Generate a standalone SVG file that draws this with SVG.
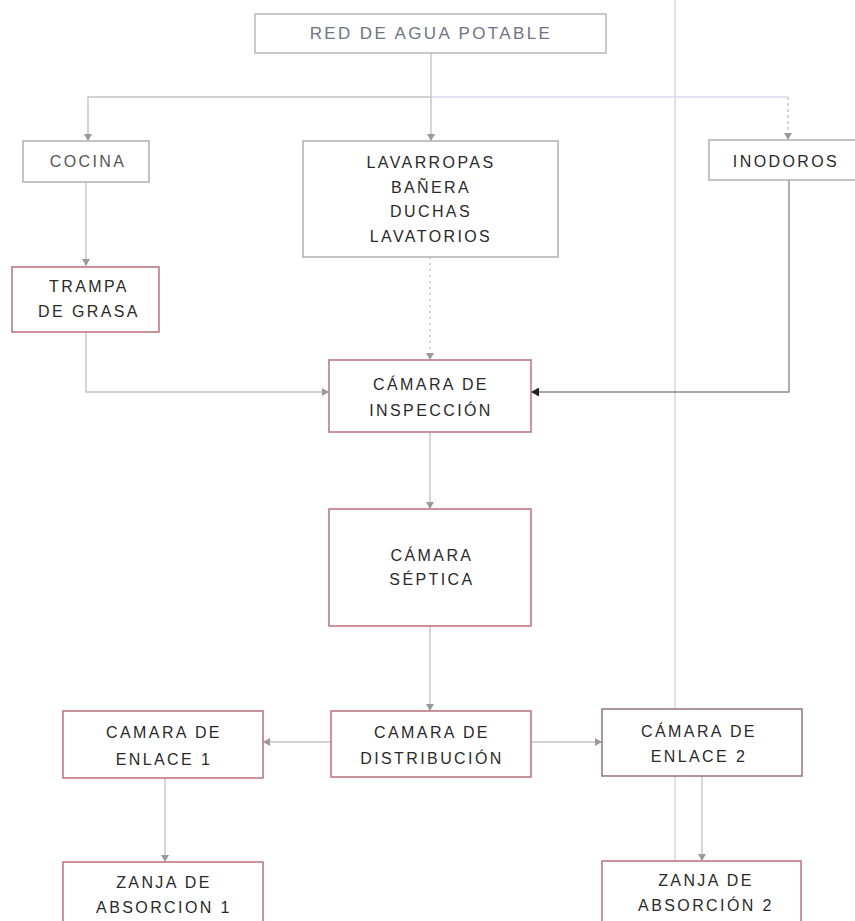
<svg xmlns="http://www.w3.org/2000/svg" width="855" height="921" viewBox="0 0 855 921">
<defs>
<marker id="ah" markerUnits="userSpaceOnUse" markerWidth="8" markerHeight="8" refX="7" refY="4" orient="auto">
<path d="M0,0 L7,4 L0,8 Z" fill="#9a9a9a"/>
</marker>
<marker id="ahk" markerUnits="userSpaceOnUse" markerWidth="9" markerHeight="9" refX="8" refY="4.5" orient="auto">
<path d="M0,0 L8,4.5 L0,9 Z" fill="#222"/>
</marker>
</defs>
<style>
.n rect{fill:#fff;stroke-width:1.6}
.g rect{stroke:#b4b4b4}
.r rect{stroke:#c07884}
.n text{font-family:"Liberation Sans",Arial,sans-serif;font-size:16px;letter-spacing:2.4px;fill:#2a2a2a;text-anchor:middle}
.c path{fill:none;stroke:#c4c4c4;stroke-width:1.4;marker-end:url(#ah)}
.guide{stroke:#d8d8ee;stroke-width:1.6}
</style>
<rect width="855" height="921" fill="#fff"/>
<line class="guide" x1="675" y1="0" x2="675" y2="870"/>
<line class="guide" x1="431" y1="97" x2="788" y2="97"/>
<g id="connectors" class="c">
<path d="M431,53 V141"/>
<path d="M431,97 H88 V141"/>
<path d="M788,97 V140" stroke-dasharray="3 3"/>
<path d="M86,182 V266"/>
<path d="M86,332 V392 H329"/>
<path d="M430,257 V360" stroke-dasharray="2 4"/>
<path d="M789,180 V392 H531" style="stroke:#8c8c8c;marker-end:url(#ahk)"/>
<path d="M430,432 V509"/>
<path d="M430,626 V711"/>
<path d="M331,742 H263"/>
<path d="M531,742 H602"/>
<path d="M165,778 V862"/>
<path d="M702,776 V861"/>
</g>
<g id="red" class="n g">
<rect x="255" y="14" width="351" height="39" style="stroke:#bcbcbc"/>
<text x="431" y="39" style="fill:#6e7484;font-size:17px">RED DE AGUA POTABLE</text>
</g>
<g id="cocina" class="n g">
<rect x="23" y="141" width="126" height="41"/>
<text x="88" y="167" style="fill:#555">COCINA</text>
</g>
<g id="lavarropas" class="n g">
<rect x="303" y="141" width="255" height="116"/>
<text x="431" y="168">LAVARROPAS</text>
<text x="431" y="192.5">BAÑERA</text>
<text x="431" y="217">DUCHAS</text>
<text x="431" y="241.5">LAVATORIOS</text>
</g>
<g id="inodoros" class="n g">
<rect x="709" y="140" width="150" height="40"/>
<text x="786" y="167">INODOROS</text>
</g>
<g id="trampa" class="n r">
<rect x="12" y="267" width="147" height="65"/>
<text x="89" y="292">TRAMPA</text>
<text x="89" y="317">DE GRASA</text>
</g>
<g id="inspeccion" class="n r">
<rect x="329" y="360" width="202" height="72"/>
<text x="431" y="390">CÁMARA DE</text>
<text x="431" y="416">INSPECCIÓN</text>
</g>
<g id="septica" class="n r">
<rect x="329" y="509" width="202" height="117"/>
<text x="432" y="561">CÁMARA</text>
<text x="432" y="585">SÉPTICA</text>
</g>
<g id="enlace1" class="n r">
<rect x="63" y="711" width="200" height="67"/>
<text x="164" y="738">CAMARA DE</text>
<text x="164" y="765">ENLACE 1</text>
</g>
<g id="distribucion" class="n r">
<rect x="331" y="711" width="200" height="66"/>
<text x="432" y="738">CAMARA DE</text>
<text x="432" y="764">DISTRIBUCIÓN</text>
</g>
<g id="enlace2" class="n r">
<rect x="602" y="709" width="200" height="67" style="stroke:#9a7c84"/>
<text x="699" y="737">CÁMARA DE</text>
<text x="699" y="762">ENLACE 2</text>
</g>
<g id="zanja1" class="n r">
<rect x="63" y="862" width="200" height="70"/>
<text x="164" y="888">ZANJA DE</text>
<text x="164" y="913">ABSORCION 1</text>
</g>
<g id="zanja2" class="n r">
<rect x="602" y="861" width="199" height="70"/>
<text x="706" y="886">ZANJA DE</text>
<text x="706" y="911">ABSORCIÓN 2</text>
</g>
</svg>
